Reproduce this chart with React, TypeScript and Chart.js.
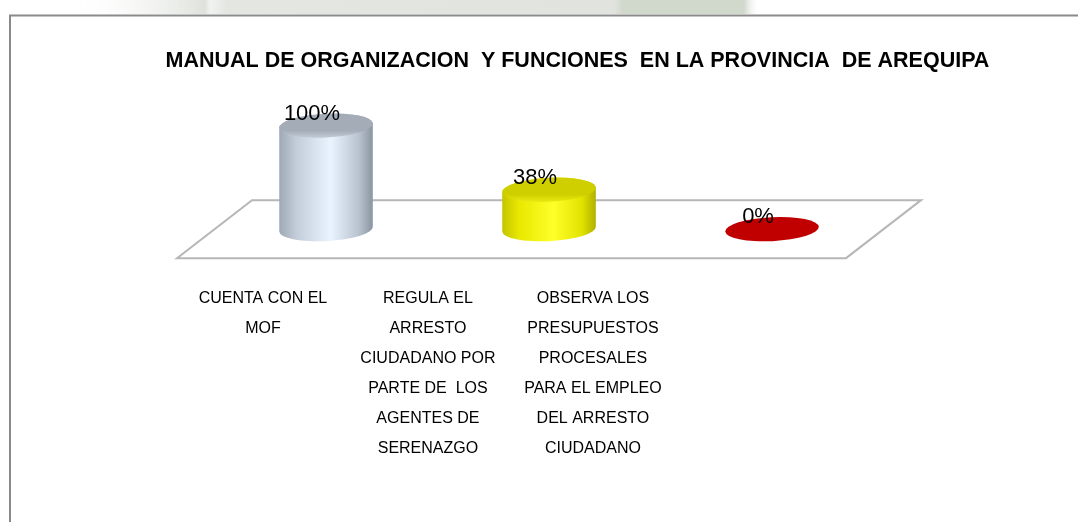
import React, { useEffect, useRef } from "react";
import { Chart, registerables } from "chart.js";

Chart.register(...registerables);

// ---- data ----
const TITLE = "MANUAL DE ORGANIZACION  Y FUNCIONES  EN LA PROVINCIA  DE AREQUIPA";
const categories: string[][] = [
  ["CUENTA CON EL", "MOF"],
  ["REGULA EL", "ARRESTO", "CIUDADANO POR", "PARTE DE  LOS", "AGENTES DE", "SERENAZGO"],
  ["OBSERVA LOS", "PRESUPUESTOS", "PROCESALES", "PARA EL EMPLEO", "DEL ARRESTO", "CIUDADANO"],
];
const values: number[] = [100, 38, 0];
const valueLabels: string[] = values.map((v) => `${v}%`);

// ---- styles ----
const FONT = '"Liberation Sans", Arial, sans-serif';
const DEPTH_X = 37.5;
const DEPTH_Y = 29;
const ELL_RY = 12;
const ELL_ROT = -0.05;
const LABEL_LINE = 30;

type Pal = { stops: [number, string][]; top: string; topFront: string };
const palettes: Pal[] = [
  {
    stops: [
      [0, "#9ea9b6"],
      [0.18, "#c3cdd9"],
      [0.55, "#e9f4ff"],
      [0.85, "#b9c3cf"],
      [1, "#8a95a2"],
    ],
    top: "#a3acb7",
    topFront: "#c2cad3",
  },
  {
    stops: [
      [0, "#c4c400"],
      [0.18, "#e8e800"],
      [0.55, "#ffff2a"],
      [0.85, "#e2e200"],
      [1, "#b0b000"],
    ],
    top: "#cfcf00",
    topFront: "#eaea10",
  },
  {
    stops: [
      [0, "#a00000"],
      [0.5, "#c00000"],
      [1, "#a00000"],
    ],
    top: "#c00000",
    topFront: "#c00000",
  },
];

function drawCylinder(ctx: CanvasRenderingContext2D, cx: number, topY: number, baseY: number, rx: number, pal: Pal) {
  const ry = ELL_RY;
  if (baseY - topY > 0.5) {
    const g = ctx.createLinearGradient(cx - rx, 0, cx + rx, 0);
    pal.stops.forEach(([o, c]) => g.addColorStop(o, c));
    ctx.beginPath();
    ctx.ellipse(cx, baseY, rx, ry, ELL_ROT, Math.PI, 0, true);
    ctx.ellipse(cx, topY, rx, ry, ELL_ROT, 0, -Math.PI, true);
    ctx.closePath();
    ctx.fillStyle = g;
    ctx.fill();
  }
  const tg = ctx.createLinearGradient(0, topY - ry, 0, topY + ry);
  tg.addColorStop(0, pal.top);
  tg.addColorStop(0.7, pal.top);
  tg.addColorStop(1, pal.topFront);
  ctx.beginPath();
  ctx.ellipse(cx, topY, rx, ry, ELL_ROT, 0, Math.PI * 2);
  ctx.fillStyle = tg;
  ctx.fill();
}

const framePlugin = {
  id: "frame",
  beforeDraw(chart: any) {
    const ctx: CanvasRenderingContext2D = chart.ctx;
    const W = chart.width;
    const H = chart.height;
    ctx.save();
    const bg = ctx.createLinearGradient(0, 0, W, 0);
    bg.addColorStop(0, "rgba(255,255,255,0)");
    bg.addColorStop(0.06, "rgba(255,255,255,0)");
    bg.addColorStop(0.19, "#dfe2dc");
    bg.addColorStop(0.195, "#f2f3f1");
    bg.addColorStop(0.21, "#e3e6e1");
    bg.addColorStop(0.57, "#e0e3de");
    bg.addColorStop(0.578, "#d1d8cc");
    bg.addColorStop(0.69, "#d1d8cc");
    bg.addColorStop(0.705, "rgba(255,255,255,0)");
    bg.addColorStop(1, "rgba(255,255,255,0)");
    ctx.fillStyle = bg;
    ctx.fillRect(0, 0, W, 14);
    ctx.strokeStyle = "#8a8a8a";
    ctx.lineWidth = 2;
    ctx.beginPath();
    ctx.moveTo(10, H);
    ctx.lineTo(10, 15.5);
    ctx.lineTo(W, 15.5);
    ctx.stroke();
    ctx.restore();
  },
};

const cylinderPlugin = {
  id: "cylinders",
  beforeDatasetsDraw(chart: any) {
    const ctx: CanvasRenderingContext2D = chart.ctx;
    const xs = chart.scales.x;
    const ys = chart.scales.y;
    const y0 = ys.getPixelForValue(0);
    const xl = xs.getPixelForValue(-0.5);
    const xr = xs.getPixelForValue(categories.length - 0.5);
    ctx.save();
    ctx.strokeStyle = "#b7b7b7";
    ctx.lineWidth = 2;
    ctx.beginPath();
    ctx.moveTo(xl - DEPTH_X, y0 + DEPTH_Y);
    ctx.lineTo(xr - DEPTH_X, y0 + DEPTH_Y);
    ctx.lineTo(xr + DEPTH_X, y0 - DEPTH_Y);
    ctx.lineTo(xl + DEPTH_X, y0 - DEPTH_Y);
    ctx.closePath();
    ctx.stroke();
    ctx.restore();
  },
  afterDatasetsDraw(chart: any) {
    const ctx: CanvasRenderingContext2D = chart.ctx;
    const meta = chart.getDatasetMeta(0);
    ctx.save();
    meta.data.forEach((bar: any, i: number) => {
      const { x, y, base, width } = bar.getProps(["x", "y", "base", "width"], true);
      drawCylinder(ctx, x, y, base, width / 2, palettes[i % palettes.length]);
    });
    ctx.font = `22px ${FONT}`;
    ctx.fillStyle = "#000";
    ctx.textAlign = "center";
    ctx.textBaseline = "alphabetic";
    meta.data.forEach((bar: any, i: number) => {
      const { x, y } = bar.getProps(["x", "y"], true);
      ctx.fillText(valueLabels[i], x - 14, y - 6);
    });
    // category labels on the label axis
    const lx = chart.scales.x2;
    const top = chart.chartArea.bottom + 37;
    ctx.font = `16px ${FONT}`;
    ctx.textBaseline = "middle";
    categories.forEach((lines, i) => {
      const px = lx.getPixelForValue(i);
      lines.forEach((t, j) => ctx.fillText(t, px, top + j * LABEL_LINE));
    });
    ctx.restore();
  },
};

export default function App() {
  const ref = useRef<HTMLCanvasElement | null>(null);

  useEffect(() => {
    if (!ref.current) return;
    const idxTicks = (scale: any) => {
      scale.ticks = categories.map((_, i) => ({ value: i }));
    };
    const chart = new Chart(ref.current, {
      type: "bar",
      data: {
        datasets: [
          {
            data: values.map((v, i) => ({ x: i, y: v })),
            backgroundColor: "rgba(0,0,0,0)",
            borderWidth: 0,
            categoryPercentage: 1,
            barPercentage: 0.42,
          } as any,
        ],
      },
      options: {
        responsive: false,
        animation: false,
        layout: { padding: { left: 77, right: 0, top: 0, bottom: 260 } },
        plugins: {
          legend: { display: false },
          tooltip: { enabled: false },
          title: {
            display: true,
            text: TITLE,
            color: "#000",
            font: { family: FONT, size: 21.5, weight: "bold", lineHeight: 1.2 },
            padding: { top: 48, bottom: 17 },
          },
        },
        scales: {
          x: {
            type: "linear",
            display: false,
            offset: false,
            min: -1.1166,
            max: 3.372,
            afterBuildTicks: idxTicks,
          },
          x2: {
            type: "linear",
            position: "bottom",
            display: false,
            offset: false,
            min: -1.127,
            max: 4.94,
            afterBuildTicks: idxTicks,
          },
          y: {
            type: "linear",
            display: false,
            min: -31.73,
            max: 133.65,
          },
        },
      } as any,
      plugins: [framePlugin, cylinderPlugin],
    });
    return () => chart.destroy();
  }, []);

  return (
    <div style={{ position: "absolute", left: 0, top: 0, width: 1078, height: 522, background: "#fff" }}>
      <canvas ref={ref} width={1078} height={522} style={{ display: "block" }} />
    </div>
  );
}
